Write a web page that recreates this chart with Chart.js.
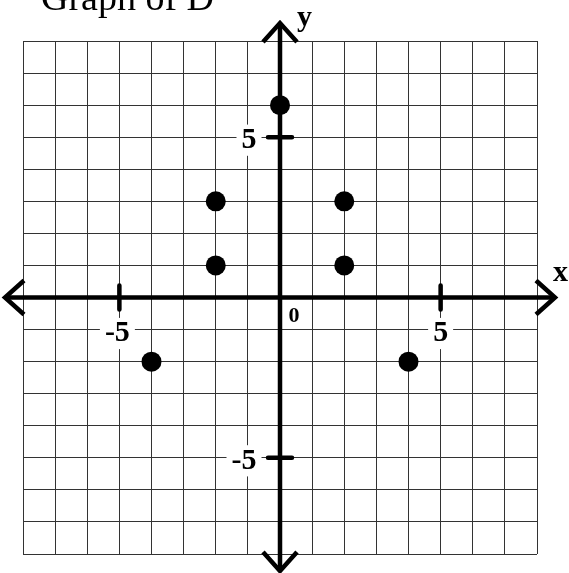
<!DOCTYPE html>
<html>
<head>
<meta charset="utf-8">
<script src="https://cdn.jsdelivr.net/npm/chart.js@4.4.1/dist/chart.umd.min.js"></script>
<style>
html,body{margin:0;padding:0;background:#fff;}
#wrap{width:569px;height:573px;position:relative;}
</style>
</head>
<body>
<div id="wrap"><canvas id="c" width="569" height="573"></canvas></div>
<script>
const titleText = "Graph of D";
const xAxisLabel = "x";
const yAxisLabel = "y";
const xValues = [0, -2, 2, -2, 2, -4, 4];
const yValues = [6, 3, 3, 1, 1, -2, -2];
const axisMin = -8;
const axisMax = 8;
const xTickLabels = [{v: -5, t: "-5"}, {v: 5, t: "5"}];
const yTickLabels = [{v: 5, t: "5"}, {v: -5, t: "-5"}];
const originLabel = "0";

const points = xValues.map((x, i) => ({x: x, y: yValues[i]}));

const serif = '"Liberation Serif", "Times New Roman", serif';

const axesPlugin = {
  id: 'axesPlugin',
  beforeDatasetsDraw(chart) {
    const ctx = chart.ctx;
    const xs = chart.scales.x, ys = chart.scales.y;
    const x0 = xs.getPixelForValue(0), y0 = ys.getPixelForValue(0);
    const area = chart.chartArea;
    ctx.save();
    // labels with white boxes
    function label(text, cx, cy, size) {
      ctx.font = 'bold ' + size + 'px ' + serif;
      const w = ctx.measureText(text).width;
      ctx.fillStyle = '#fff';
      ctx.fillRect(cx - w / 2 - 5, cy - size * 0.42 - 3, w + 10, size * 0.84 + 6);
      ctx.fillStyle = '#000';
      ctx.textAlign = 'center';
      ctx.textBaseline = 'middle';
      ctx.fillText(text, cx, cy);
    }
    xTickLabels.forEach(o => label(o.t, xs.getPixelForValue(o.v) - (o.v < 0 ? 2 : 0), y0 + 36, 30));
    yTickLabels.forEach(o => label(o.t, x0 - 31 - (o.v < 0 ? 5 : 0), ys.getPixelForValue(o.v) + 3, 30));
    ctx.font = 'bold 22px ' + serif;
    ctx.fillStyle = '#000';
    ctx.textAlign = 'center';
    ctx.textBaseline = 'middle';
    ctx.fillText(originLabel, x0 + 14, y0 + 19);

    // axes
    ctx.strokeStyle = '#000';
    ctx.lineWidth = 4.5;
    ctx.lineCap = 'butt';
    ctx.beginPath();
    ctx.moveTo(area.left - 17, y0); ctx.lineTo(area.right + 17, y0);
    ctx.moveTo(x0, area.top - 17); ctx.lineTo(x0, area.bottom + 16);
    ctx.stroke();
    // arrowheads
    ctx.lineJoin = 'miter';
    const lt = area.left - 18, rt = area.right + 18, tt = area.top - 18, bt = area.bottom + 17;
    ctx.beginPath();
    ctx.moveTo(lt + 19, y0 - 17); ctx.lineTo(lt, y0); ctx.lineTo(lt + 19, y0 + 17);
    ctx.moveTo(rt - 19, y0 - 17); ctx.lineTo(rt, y0); ctx.lineTo(rt - 19, y0 + 17);
    ctx.moveTo(x0 - 17, tt + 19); ctx.lineTo(x0, tt); ctx.lineTo(x0 + 17, tt + 19);
    ctx.moveTo(x0 - 17, bt - 19); ctx.lineTo(x0, bt); ctx.lineTo(x0 + 17, bt - 19);
    ctx.stroke();
    // tick marks at +-5
    ctx.lineCap = 'round';
    ctx.beginPath();
    xTickLabels.forEach(o => {
      const px = xs.getPixelForValue(o.v);
      ctx.moveTo(px, y0 - 12); ctx.lineTo(px, y0 + 12);
    });
    yTickLabels.forEach(o => {
      const py = ys.getPixelForValue(o.v);
      ctx.moveTo(x0 - 12, py); ctx.lineTo(x0 + 12, py);
    });
    ctx.stroke();

    // axis names
    ctx.fillStyle = '#000';
    ctx.textAlign = 'left';
    ctx.textBaseline = 'alphabetic';
    ctx.font = 'bold 30px ' + serif;
    ctx.fillText(yAxisLabel, x0 + 17, 26);
    ctx.fillText(xAxisLabel, area.right + 16, y0 - 17);
    // title
    ctx.font = '38px ' + serif;
    ctx.fillText(titleText, 41, 10);
    ctx.restore();
  }
};

new Chart(document.getElementById('c'), {
  type: 'scatter',
  data: {
    datasets: [{
      data: points,
      pointRadius: 10,
      pointHoverRadius: 10,
      backgroundColor: '#000',
      borderColor: '#000',
      borderWidth: 0
    }]
  },
  options: {
    responsive: false,
    animation: false,
    devicePixelRatio: 1,
    layout: {padding: {left: 23, right: 32, top: 41, bottom: 19}},
    plugins: {legend: {display: false}, tooltip: {enabled: false}, title: {display: false}},
    scales: {
      x: {
        type: 'linear', min: axisMin, max: axisMax,
        ticks: {display: false, stepSize: 1},
        grid: {color: '#333', lineWidth: 1, drawTicks: false},
        border: {display: false}
      },
      y: {
        type: 'linear', min: axisMin, max: axisMax,
        ticks: {display: false, stepSize: 1},
        grid: {color: '#333', lineWidth: 1, drawTicks: false},
        border: {display: false}
      }
    }
  },
  plugins: [axesPlugin]
});
</script>
</body>
</html>
